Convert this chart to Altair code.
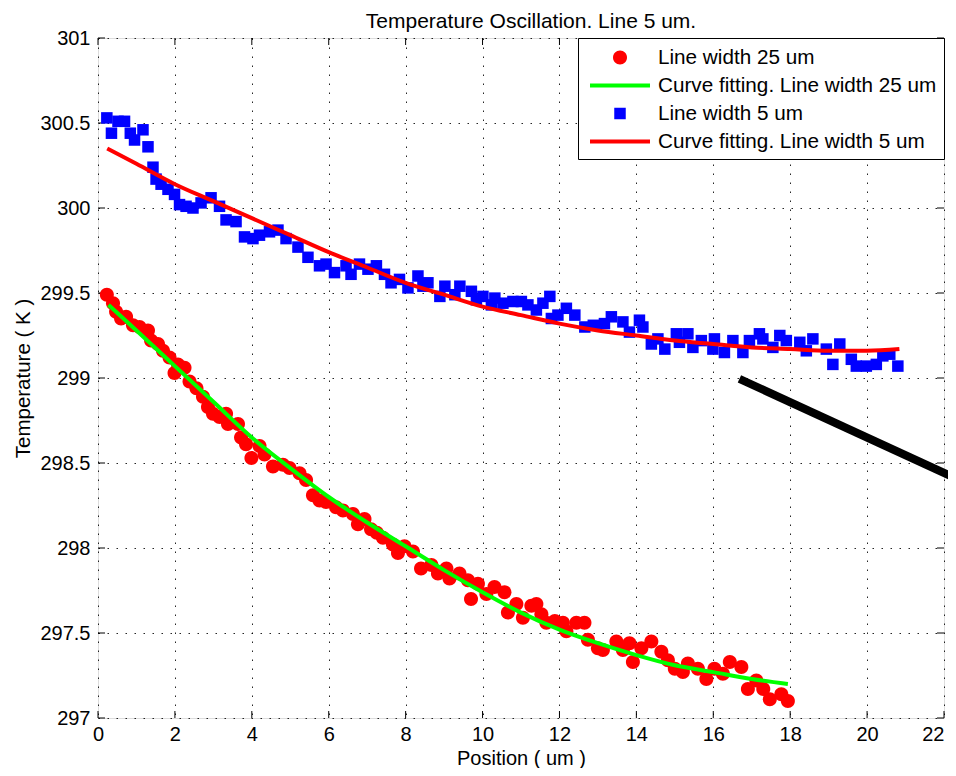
import altair as alt
import pandas as pd

FONT = "Liberation Sans"

# Series names
S25 = "Line width 25 um"
F25 = "Curve fitting. Line width 25 um"
S5 = "Line width 5 um"
F5 = "Curve fitting. Line width 5 um"
series_domain = [S25, F25, S5, F5]
series_colors = ["#ff0000", "#00ff00", "#0000ff", "#ff0000"]
# custom symbol outlines (in units of half the symbol size)
CIRCLE = "M0.56,0A0.56,0.56,0,1,1,-0.56,0A0.56,0.56,0,1,1,0.56,0Z"
SQUARE = "M-0.46,-0.46L0.46,-0.46L0.46,0.46L-0.46,0.46Z"
LINE_SYMBOL = "M-2.4,-0.16L2.4,-0.16L2.4,0.16L-2.4,0.16Z"
series_shapes = [CIRCLE, LINE_SYMBOL, SQUARE, LINE_SYMBOL]
SYMBOL_SIZE = 625

# Line width 25 um (red circles)
r_x = [0.23, 0.39, 0.47, 0.60, 0.73, 0.91, 1.08, 1.30, 1.38, 1.56, 1.69, 1.86, 1.99, 2.08,
       2.25, 2.38, 2.56, 2.73, 2.86, 2.99, 3.16, 3.33, 3.38, 3.64, 3.72, 3.85, 3.99, 4.20,
       4.33, 4.55, 4.81, 4.98, 5.24, 5.41, 5.59, 5.76, 5.93, 6.19, 6.37, 6.63, 6.76, 6.93,
       7.10, 7.25, 7.41, 7.67, 7.80, 7.97, 8.19, 8.40, 8.67, 8.84, 9.06, 9.14, 9.40, 9.62,
       9.70, 9.88, 10.10, 10.31, 10.57, 10.66, 10.88, 11.05, 11.27, 11.40, 11.53, 11.66,
       11.88, 12.09, 12.18, 12.44, 12.65, 12.74, 13.00, 13.13, 13.48, 13.65, 13.82, 13.91,
       14.13, 14.39, 14.65, 14.82, 15.00, 15.21, 15.34, 15.60, 15.82, 16.03, 16.25, 16.43,
       16.73, 16.90, 17.12, 17.30, 17.47, 17.77, 17.94]
r_y = [299.49, 299.44, 299.39, 299.35, 299.36, 299.31, 299.30, 299.28, 299.22, 299.20, 299.16,
       299.12, 299.03, 299.08, 299.06, 298.98, 298.94, 298.89, 298.83, 298.79, 298.77, 298.79,
       298.73, 298.73, 298.65, 298.61, 298.53, 298.60, 298.55, 298.48, 298.49, 298.47, 298.44,
       298.40, 298.31, 298.28, 298.27, 298.24, 298.22, 298.20, 298.14, 298.17, 298.11, 298.09,
       298.06, 298.02, 297.97, 298.01, 297.98, 297.88, 297.90, 297.85, 297.88, 297.82, 297.85,
       297.81, 297.70, 297.79, 297.73, 297.77, 297.74, 297.62, 297.67, 297.59, 297.66, 297.67,
       297.61, 297.56, 297.57, 297.56, 297.51, 297.56, 297.56, 297.46, 297.41, 297.40, 297.45,
       297.40, 297.44, 297.33, 297.41, 297.45, 297.39, 297.34, 297.29, 297.27, 297.32, 297.29,
       297.23, 297.29, 297.26, 297.33, 297.30, 297.17, 297.22, 297.17, 297.11, 297.14, 297.10]

# Curve fitting, line width 25 um (green)
g_x = [0.27, 1, 2, 3, 4, 5, 6, 7, 8, 9, 10, 11, 12, 13, 14, 15, 16, 17, 17.94]
g_y = [299.43, 299.28, 299.07, 298.86, 298.65, 298.47, 298.30, 298.15, 298.01, 297.87,
       297.74, 297.62, 297.52, 297.44, 297.37, 297.31, 297.27, 297.23, 297.20]

# Line width 5 um (blue squares)
b_x = [0.23, 0.35, 0.52, 0.69, 0.84, 0.95, 1.17, 1.30, 1.43, 1.51, 1.64, 1.82, 1.99, 2.12,
       2.29, 2.47, 2.68, 2.94, 3.16, 3.33, 3.59, 3.81, 4.03, 4.20, 4.46, 4.68, 4.89, 5.20,
       5.46, 5.76, 5.93, 6.15, 6.45, 6.58, 6.80, 7.02, 7.24, 7.45, 7.62, 7.84, 8.06, 8.32,
       8.45, 8.58, 8.89, 9.02, 9.28, 9.41, 9.71, 9.84, 10.01, 10.23, 10.32, 10.53, 10.79,
       11.01, 11.18, 11.40, 11.57, 11.75, 11.79, 11.96, 12.18, 12.40, 12.66, 12.88, 13.17,
       13.35, 13.65, 13.82, 14.08, 14.17, 14.39, 14.56, 14.74, 15.04, 15.12, 15.34, 15.47,
       15.69, 15.99, 16.03, 16.29, 16.51, 16.77, 16.94, 17.20, 17.29, 17.55, 17.73, 17.90,
       18.25, 18.42, 18.59, 18.94, 19.11, 19.29, 19.59, 19.72, 19.98, 20.24, 20.41, 20.59,
       20.80]
b_y = [300.53, 300.44, 300.51, 300.51, 300.44, 300.40, 300.46, 300.36, 300.24, 300.17, 300.14,
       300.11, 300.08, 300.02, 300.01, 300.00, 300.03, 300.06, 300.01, 299.93, 299.92, 299.83,
       299.82, 299.84, 299.86, 299.87, 299.82, 299.77, 299.71, 299.66, 299.67, 299.62, 299.66,
       299.61, 299.67, 299.64, 299.66, 299.61, 299.56, 299.58, 299.53, 299.60, 299.54, 299.56,
       299.48, 299.54, 299.49, 299.54, 299.51, 299.46, 299.48, 299.43, 299.47, 299.44, 299.45,
       299.45, 299.43, 299.40, 299.44, 299.48, 299.35, 299.37, 299.41, 299.37, 299.30, 299.31,
       299.32, 299.36, 299.33, 299.27, 299.34, 299.30, 299.20, 299.23, 299.17, 299.26, 299.21,
       299.26, 299.18, 299.22, 299.17, 299.23, 299.15, 299.22, 299.15, 299.22, 299.26, 299.23,
       299.18, 299.25, 299.22, 299.21, 299.16, 299.23, 299.17, 299.08, 299.20, 299.11, 299.07,
       299.07, 299.08, 299.13, 299.14, 299.07]

# Curve fitting, line width 5 um (red line)
f_x = [0.24, 1, 2, 3, 4, 5, 6, 7, 8, 9, 10, 11, 12, 13, 14, 15, 16, 17, 18, 19, 20, 20.84]
f_y = [300.35, 300.26, 300.14, 300.04, 299.94, 299.84, 299.74, 299.65, 299.56, 299.49, 299.42,
       299.37, 299.32, 299.28, 299.25, 299.22, 299.20, 299.18, 299.17, 299.16, 299.16, 299.17]

# Thick black annotation line
k_x = [16.68, 22.4]
k_y = [298.995, 298.40]

x_ticks = [0, 2, 4, 6, 8, 10, 12, 14, 16, 18, 20, 22]
y_ticks = [297, 297.5, 298, 298.5, 299, 299.5, 300, 300.5, 301]

W, H = 846, 680

df_r = pd.DataFrame({"x": r_x, "y": r_y, "series": S25})
df_g = pd.DataFrame({"x": g_x, "y": g_y, "series": F25})
df_b = pd.DataFrame({"x": b_x, "y": b_y, "series": S5})
df_f = pd.DataFrame({"x": f_x, "y": f_y, "series": F5})
df_k = pd.DataFrame({"x": [k_x[0]], "y": [k_y[0]], "x2": [k_x[1]], "y2": [k_y[1]]})
df_xt = pd.DataFrame({"x": x_ticks})
df_yt = pd.DataFrame({"y": y_ticks})

xs = alt.Scale(domain=[0, 22], nice=False, zero=False)
ys = alt.Scale(domain=[297, 301], nice=False, zero=False)

axis_common = dict(grid=True, gridColor="black", gridDash=[1.5, 7.5], gridWidth=1, gridOpacity=0.85,
                   tickSize=0, domain=False, labelFont=FONT, labelFontSize=20, labelColor="black",
                   titleFont=FONT, titleFontWeight="normal", titleColor="black",
                   titleBaseline="alphabetic", labelFlush=False, labelOverlap=False, format="~g")
xax = alt.Axis(values=x_ticks, title="Position ( um )", labelPadding=6.5, titleY=46.5,
               titleFontSize=20,
               labelAlign={"condition": {"test": "datum.value >= 22", "value": "right"}, "value": "center"},
               **axis_common)
yax = alt.Axis(values=y_ticks, title="Temperature ( K )", labelPadding=8, titleX=-69,
               titleFontSize=20.5, **axis_common)

X = alt.X("x:Q", scale=xs, axis=xax)
Y = alt.Y("y:Q", scale=ys, axis=yax)

leg = alt.Legend(
    title=None, orient="top-right", offset=0, padding=7, rowPadding=5,
    symbolOffset=22.5, labelOffset=25.5,
    labelFont=FONT, labelFontSize=20.7, labelColor="black", labelLimit=500,
    fillColor="white", strokeColor="black", symbolStrokeWidth=0, symbolOpacity=1,
    symbolSize=SYMBOL_SIZE,
)
color_scale = alt.Scale(domain=series_domain, range=series_colors)
C = alt.Color("series:N", scale=color_scale, legend=leg)
C_noleg = alt.Color("series:N", scale=color_scale, legend=None)
SH = alt.Shape("series:N", scale=alt.Scale(domain=series_domain, range=series_shapes), legend=leg)

red_pts = alt.Chart(df_r).mark_point(filled=True, opacity=1, size=SYMBOL_SIZE).encode(
    x=X, y=Y, color=C, shape=SH)
green_line = alt.Chart(df_g).mark_line(strokeWidth=4, interpolate="monotone").encode(
    x=X, y=Y, color=C_noleg)
blue_pts = alt.Chart(df_b).mark_point(filled=True, opacity=1, size=SYMBOL_SIZE).encode(
    x=X, y=Y, color=C, shape=SH)
red_line = alt.Chart(df_f).mark_line(strokeWidth=4, interpolate="monotone").encode(
    x=X, y=Y, color=C_noleg)
black_line = alt.Chart(df_k).mark_rule(color="black", strokeWidth=8, clip=False).encode(
    x=X, y=Y, x2="x2:Q", y2="y2:Q")

tick_len = 7
t_bottom = alt.Chart(df_xt).mark_rule(color="black", strokeWidth=1).encode(
    x=X, y=alt.value(H), y2=alt.value(H - tick_len))
t_top = alt.Chart(df_xt).mark_rule(color="black", strokeWidth=1).encode(
    x=X, y=alt.value(0), y2=alt.value(tick_len))
t_left = alt.Chart(df_yt).mark_rule(color="black", strokeWidth=1).encode(
    y=Y, x=alt.value(0), x2=alt.value(tick_len))
t_right = alt.Chart(df_yt).mark_rule(color="black", strokeWidth=1).encode(
    y=Y, x=alt.value(W), x2=alt.value(W - tick_len))

chart = alt.layer(
    t_bottom, t_top, t_left, t_right,
    red_pts, green_line, blue_pts, red_line, black_line,
).properties(
    width=W, height=H,
    autosize=alt.AutoSizeParams(type="none"),
    padding={"left": 90, "top": 30, "right": 4, "bottom": 50},
    title=alt.TitleParams("Temperature Oscillation. Line 5 um.", font=FONT, fontSize=21,
                          fontWeight="normal", color="black", anchor="middle", frame="group",
                          offset=4, dy=8, dx=10),
).configure_view(stroke="black", strokeWidth=1).configure_legend(
    strokeWidth=1.5
).configure(background="white")

chart.save("out.html", embed_options={"renderer": "svg", "actions": False})
